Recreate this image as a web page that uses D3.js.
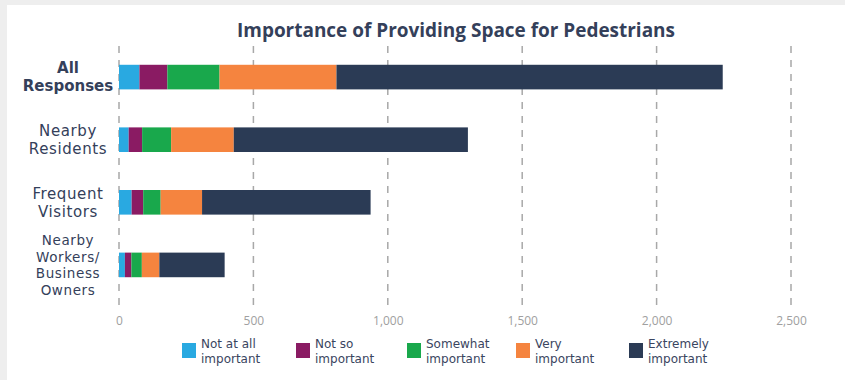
<!DOCTYPE html>
<html>
<head>
<meta charset="utf-8">
<script src="https://cdn.jsdelivr.net/npm/d3@7"></script>
<style>
  html, body { margin: 0; padding: 0; background: #eeeeee; }
  svg { display: block; }
</style>
</head>
<body>
<svg id="chart" width="845" height="380"></svg>
<script>
// Respondent groups (top to bottom)
const groups = ["All Responses", "Nearby Residents", "Frequent Visitors", "Nearby Workers/ Business Owners"];
const groupLines = [["All", "Responses"], ["Nearby", "Residents"], ["Frequent", "Visitors"], ["Nearby", "Workers/", "Business", "Owners"]];

// Response levels and counts per group
const levels = ["Not at all important", "Not so important", "Somewhat important", "Very important", "Extremely important"];
const levelLines = [["Not at all", "important"], ["Not so", "important"], ["Somewhat", "important"], ["Very", "important"], ["Extremely", "important"]];
const notAtAll   = [76, 36, 47, 22];
const notSo      = [104, 50, 43, 24];
const somewhat   = [194, 108, 65, 39];
const very       = [435, 233, 154, 65];
const extremely  = [1437, 871, 627, 243];

const colors = ["#29a9e1", "#8a1b63", "#19a84c", "#f5843f", "#2b3b55"];
const xTicks = [0, 500, 1000, 1500, 2000, 2500];

const svg = d3.select("#chart");
const W = 845, H = 380;

// card background
svg.append("rect").attr("x", 7).attr("y", 5).attr("width", W - 7).attr("height", H - 5).attr("fill", "#ffffff");

const x = d3.scaleLinear().domain([0, 2500]).range([119, 791]);
const y = d3.scaleBand().domain(groups).range([46, 296]).paddingInner(0.607).paddingOuter(0.3);

// Title
svg.append("text")
  .attr("x", 456).attr("y", 37)
  .attr("text-anchor", "middle")
  .attr("font-family", "'Liberation Sans Narrow', 'Open Sans', sans-serif")
  .attr("font-weight", "bold")
  .attr("font-size", 20)
  .attr("fill", "#34405a")
  .attr("textLength", 438)
  .attr("lengthAdjust", "spacingAndGlyphs")
  .text("Importance of Providing Space for Pedestrians");

// Dashed vertical gridlines
svg.append("g").selectAll("line").data(xTicks).join("line")
  .attr("x1", d => x(d)).attr("x2", d => x(d))
  .attr("y1", 46).attr("y2", 306)
  .attr("stroke", "#a8a8a8").attr("stroke-width", 1.5)
  .attr("stroke-dasharray", "7,7");

// X axis tick labels
const xAxis = d3.axisBottom(x).tickValues(xTicks).tickSize(0).tickPadding(0).tickFormat(d3.format(","));
const gx = svg.append("g").attr("transform", "translate(0,325)").call(xAxis);
gx.select(".domain").remove();
gx.selectAll("text")
  .attr("dy", 0)
  .attr("font-family", "'Open Sans', sans-serif")
  .attr("font-size", 12)
  .attr("fill", "#a0a0a0");

// Stack the series
const table = groups.map((g, i) => ({
  group: g,
  [levels[0]]: notAtAll[i],
  [levels[1]]: notSo[i],
  [levels[2]]: somewhat[i],
  [levels[3]]: very[i],
  [levels[4]]: extremely[i]
}));
const stacked = d3.stack().keys(levels)(table);

svg.append("g").selectAll("g").data(stacked).join("g")
  .attr("fill", (d, i) => colors[i])
  .selectAll("rect").data(d => d).join("rect")
  .attr("x", d => x(d[0]))
  .attr("width", d => x(d[1]) - x(d[0]))
  .attr("y", d => y(d.data.group))
  .attr("height", y.bandwidth());

// Category labels, one text per line
const labG = svg.append("g");
groups.forEach((g, i) => {
  const lines = groupLines[i];
  const bold = i === 0;
  const fs = i === 3 ? 13.5 : 15;
  const lh = i === 3 ? 16.5 : 18;
  const cy = y(g) + y.bandwidth() / 2;
  lines.forEach((ln, j) => {
    labG.append("text")
      .attr("x", 68)
      .attr("y", cy + (j - (lines.length - 1) / 2) * lh + fs * 0.36)
      .attr("text-anchor", "middle")
      .attr("font-family", "'DejaVu Sans', sans-serif")
      .attr("font-weight", bold ? "bold" : "normal")
      .attr("font-size", fs)
      .attr("letter-spacing", bold ? 0 : 0.6)
      .attr("fill", "#34405a")
      .text(ln);
  });
});

// Legend
const legendX = [182, 296, 407, 516, 629];
const lg = svg.append("g");
levels.forEach((lv, i) => {
  lg.append("rect")
    .attr("x", legendX[i]).attr("y", 343)
    .attr("width", 14).attr("height", 15)
    .attr("fill", colors[i]);
  levelLines[i].forEach((ln, j) => {
    lg.append("text")
      .attr("x", legendX[i] + 19)
      .attr("y", 348 + j * 14.5)
      .attr("font-family", "'DejaVu Sans', sans-serif")
      .attr("font-size", 12)
      .attr("fill", "#3a4560")
      .text(ln);
  });
});
</script>
</body>
</html>
